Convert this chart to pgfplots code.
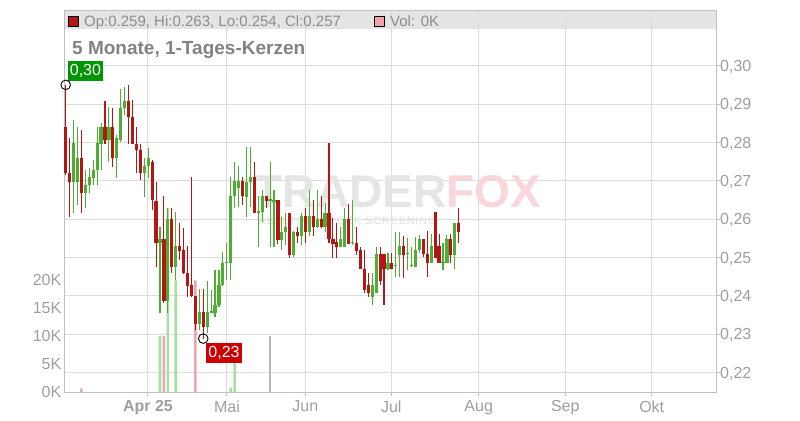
\documentclass[border=0pt]{standalone}
\usepackage{pgfplots}
\pgfplotsset{compat=1.18}
\usepackage{pgfplotstable}
\usepackage{fontspec}
\setmainfont{Liberation Sans}
\definecolor{cred}{RGB}{180,22,22}
\definecolor{cgreen}{RGB}{78,174,52}
\definecolor{vgreen}{RGB}{168,222,162}
\definecolor{vred}{RGB}{240,164,172}
\definecolor{vgray}{RGB}{184,184,184}
\definecolor{gridc}{RGB}{220,220,220}
\definecolor{axc}{RGB}{192,192,192}
\definecolor{tickc}{RGB}{158,158,158}
\definecolor{hdrbg}{RGB}{228,228,228}
\definecolor{hdrtx}{RGB}{140,140,140}
\definecolor{ttl}{RGB}{130,130,130}
\definecolor{lblgreen}{RGB}{0,150,0}
\definecolor{lblred}{RGB}{204,0,0}
\definecolor{wmgray}{RGB}{229,229,229}
\definecolor{wmsub}{RGB}{222,222,222}
\definecolor{wmpink}{RGB}{250,214,218}

% red (falling) candles: index, open, high, low, close
\pgfplotstableread{
i o h l c
0 0.2841 0.2950 0.2715 0.2719
1 0.2719 0.2811 0.2606 0.2697
4 0.2758 0.2832 0.2615 0.2667
10 0.2841 0.2908 0.2797 0.2806
12 0.2841 0.2889 0.2736 0.2758
16 0.2908 0.2950 0.2797 0.2867
17 0.2867 0.2911 0.2797 0.2797
18 0.2797 0.2841 0.2719 0.2780
19 0.2780 0.2797 0.2702 0.2719
22 0.2750 0.2754 0.2624 0.2650
23 0.2648 0.2697 0.2476 0.2537
25 0.2547 0.2660 0.2380 0.2387
27 0.2599 0.2628 0.2458 0.2476
29 0.2530 0.2589 0.2493 0.2517
30 0.2519 0.2576 0.2457 0.2458
31 0.2458 0.2530 0.2397 0.2425
32 0.2428 0.2709 0.2397 0.2399
33 0.2399 0.2399 0.2310 0.2326
35 0.2357 0.2417 0.2288 0.2318
45 0.2700 0.2710 0.2637 0.2660
48 0.2710 0.2749 0.2616 0.2616
51 0.2660 0.2660 0.2628 0.2648
54 0.2650 0.2650 0.2534 0.2545
57 0.2616 0.2616 0.2498 0.2506
59 0.2567 0.2580 0.2537 0.2556
61 0.2608 0.2628 0.2537 0.2567
63 0.2608 0.2650 0.2556 0.2578
65 0.2599 0.2660 0.2576 0.2578
67 0.2616 0.2799 0.2537 0.2547
68 0.2547 0.2602 0.2498 0.2535
69 0.2539 0.2589 0.2498 0.2528
72 0.2599 0.2639 0.2535 0.2535
74 0.2537 0.2580 0.2506 0.2517
75 0.2519 0.2528 0.2469 0.2469
76 0.2469 0.2519 0.2406 0.2415
77 0.2428 0.2460 0.2397 0.2406
80 0.2509 0.2528 0.2428 0.2437
81 0.2509 0.2509 0.2376 0.2469
83 0.2486 0.2511 0.2469 0.2469
86 0.2530 0.2556 0.2445 0.2506
91 0.2547 0.2547 0.2502 0.2509
92 0.2509 0.2570 0.2448 0.2486
94 0.2619 0.2619 0.2498 0.2498
95 0.2530 0.2560 0.2486 0.2486
98 0.2547 0.2562 0.2485 0.2506
100 0.2589 0.2628 0.2537 0.2567
}\downc

% green (rising) candles
\pgfplotstableread{
i o h l c
2 0.2697 0.2858 0.2615 0.2799
3 0.2697 0.2841 0.2637 0.2758
5 0.2667 0.2728 0.2628 0.2689
6 0.2689 0.2732 0.2667 0.2710
7 0.2706 0.2754 0.2689 0.2728
8 0.2728 0.2841 0.2689 0.2799
9 0.2797 0.2850 0.2728 0.2841
11 0.2806 0.2893 0.2750 0.2841
13 0.2758 0.2819 0.2706 0.2811
14 0.2806 0.2938 0.2802 0.2889
15 0.2889 0.2945 0.2871 0.2908
20 0.2719 0.2758 0.2658 0.2738
21 0.2738 0.2784 0.2706 0.2758
24 0.2537 0.2580 0.2356 0.2547
26 0.2387 0.2628 0.2356 0.2599
28 0.2476 0.2619 0.2441 0.2530
34 0.2326 0.2417 0.2310 0.2357
36 0.2318 0.2437 0.2302 0.2357
37 0.2355 0.2415 0.2355 0.2359
38 0.2356 0.2467 0.2345 0.2376
39 0.2376 0.2467 0.2371 0.2428
40 0.2428 0.2515 0.2424 0.2486
41 0.2486 0.2537 0.2441 0.2488
42 0.2486 0.2709 0.2441 0.2660
43 0.2660 0.2750 0.2628 0.2700
44 0.2680 0.2738 0.2632 0.2700
46 0.2658 0.2789 0.2606 0.2697
47 0.2697 0.2789 0.2632 0.2710
49 0.2617 0.2660 0.2528 0.2619
50 0.2618 0.2677 0.2593 0.2660
52 0.2648 0.2749 0.2528 0.2648
53 0.2645 0.2677 0.2528 0.2650
55 0.2545 0.2606 0.2519 0.2567
56 0.2567 0.2616 0.2532 0.2578
58 0.2506 0.2570 0.2500 0.2567
60 0.2556 0.2615 0.2532 0.2608
62 0.2567 0.2677 0.2555 0.2608
64 0.2578 0.2677 0.2576 0.2599
66 0.2578 0.2641 0.2567 0.2616
70 0.2528 0.2580 0.2528 0.2547
71 0.2528 0.2628 0.2528 0.2599
73 0.2537 0.2650 0.2532 0.2539
78 0.2397 0.2458 0.2376 0.2428
79 0.2406 0.2528 0.2406 0.2509
82 0.2469 0.2511 0.2467 0.2486
84 0.2477 0.2567 0.2450 0.2479
85 0.2506 0.2567 0.2450 0.2530
87 0.2509 0.2550 0.2467 0.2511
88 0.2477 0.2528 0.2474 0.2479
89 0.2474 0.2554 0.2474 0.2519
90 0.2519 0.2558 0.2511 0.2547
93 0.2486 0.2560 0.2486 0.2530
96 0.2486 0.2537 0.2467 0.2488
97 0.2486 0.2558 0.2486 0.2547
99 0.2506 0.2589 0.2469 0.2589
}\upc

\pgfplotstableread{
i v
4 600
25 10000
33 20000
}\volred
\pgfplotstableread{
i v
24 10000
26 33000
28 20000
42 800
43 8000
}\volgreen
\pgfplotstableread{
i v
52 10000
}\volgray

\pgfplotsset{
  base/.style={scale only axis, width=652bp, height=381bp,
    at={(64bp,28bp)}, anchor=south west,
    xmin=-0.43, xmax=165.47},
  candle/.style 2 args={draw=none, mark=none, forget plot,
    error bars/.cd, y dir=plus, y explicit, error mark=none,
    error bar style={draw=#1, line width=#2}},
}

\begin{document}
\begin{tikzpicture}[x=1bp,y=1bp]
\useasboundingbox (0,0) rectangle (800,420);
% header bar
\fill[hdrbg] (64,391) rectangle (716,409);

% axis 1: frame, grid, price ticks, month ticks
\begin{axis}[base,
  ymin=0.21487, ymax=0.31427,
  axis line style={axc, line width=1bp},
  grid=major, major grid style={gridc, line width=1bp},
  xtick={20.94,41.04,60.99,82.85,105.09,127.12,149.11},
  xticklabels={\textbf{Apr 25},Mai,Jun,Jul,Aug,Sep,Okt},
  ytick={0.22,0.23,0.24,0.25,0.26,0.27,0.28,0.29,0.30},
  yticklabels={{0,22},{0,23},{0,24},{0,25},{0,26},{0,27},{0,28},{0,29},{0,30}},
  xtick pos=left, ytick pos=right,
  tick align=outside, major tick length=4bp,
  tick style={axc, line width=1bp},
  ticklabel style={font=\fontsize{16bp}{18bp}\selectfont, text=tickc},
  yticklabel style={anchor=base west, inner sep=0pt, yshift=-5.7bp},
  xticklabel style={anchor=north, inner sep=0pt, yshift=-4.5bp},
]
\end{axis}

% watermark
\node[anchor=base, inner sep=0pt, font=\fontsize{46bp}{50bp}\selectfont\bfseries] at (398,213)
  {\textcolor{wmgray}{TRADER}\textcolor{wmpink}{FOX}};
\node[anchor=base west, inner sep=0pt, text=wmsub,
  font=\fontsize{10.5bp}{12bp}\selectfont\addfontfeature{LetterSpace=10}] at (258,196)
  {REALTIME STOCK SCREENING};

% axis 2: volume
\begin{axis}[base,
  ymin=0, ymax=68219,
  axis x line=none, axis y line*=left,
  y axis line style={draw=none},
  scaled y ticks=false,
  ytick={0,5000,10000,15000,20000},
  yticklabels={0K,5K,10K,15K,20K},
  major tick length=0pt, ytick style={draw=none},
  ticklabel style={font=\fontsize{16bp}{18bp}\selectfont, text=tickc},
  yticklabel style={anchor=east, inner sep=0pt, xshift=-2.5bp},
]
\addplot[ybar, bar width=2.6bp, bar shift=0pt, fill=vred, draw=none] table[x=i,y=v]{\volred};
\addplot[ybar, bar width=2.6bp, bar shift=0pt, fill=vgreen, draw=none] table[x=i,y=v]{\volgreen};
\addplot[ybar, bar width=2.6bp, bar shift=0pt, fill=vgray, draw=none] table[x=i,y=v]{\volgray};
\end{axis}

% axis 3: candles
\begin{axis}[base, ymin=0.21487, ymax=0.31427, hide axis]
% wicks
\addplot[candle={cred}{1.1bp}]
  table[x=i, y=l, y error plus expr=\thisrow{h}-\thisrow{l}]{\downc};
\addplot[candle={cgreen}{1.1bp}]
  table[x=i, y=l, y error plus expr=\thisrow{h}-\thisrow{l}]{\upc};
% bodies
\addplot[candle={cred}{3.2bp}]
  table[x=i, y=c, y error plus expr={max(\thisrow{o}-\thisrow{c},0.0003)}]{\downc};
\addplot[candle={cgreen}{3.2bp}]
  table[x=i, y=o, y error plus expr={max(\thisrow{c}-\thisrow{o},0.0003)}]{\upc};
% high / low markers
\addplot[only marks, mark=o, mark size=4.8bp, mark options={draw=black, line width=0.9bp}]
  coordinates {(0,0.2950) (35,0.2288)};
\node[fill=lblgreen, text=white, anchor=south west, inner xsep=2bp, inner ysep=0pt,
  minimum height=20bp, font=\fontsize{16bp}{18bp}\selectfont, xshift=2bp, yshift=4bp]
  at (axis cs:0,0.2950) {0,30};
\node[fill=lblred, text=white, anchor=north west, inner xsep=2bp, inner ysep=0pt,
  minimum height=20bp, font=\fontsize{16bp}{18bp}\selectfont, xshift=3bp, yshift=-4bp]
  at (axis cs:35,0.2288) {0,23};
\end{axis}

% header content
\filldraw[fill=cred, draw=black, line width=0.8bp] (68.3,393.3) rectangle (78.7,403.5);
\node[anchor=base west, inner sep=0pt, text=hdrtx, font=\fontsize{15bp}{18bp}\selectfont]
  at (84,393.3) {Op:0.259, Hi:0.263, Lo:0.254, Cl:0.257};
\filldraw[fill=vred, draw=black, line width=0.8bp] (374,393.3) rectangle (384.4,403.5);
\node[anchor=base west, inner sep=0pt, text=hdrtx, font=\fontsize{15bp}{18bp}\selectfont]
  at (390,393.3) {Vol: 0K};
% title
\node[anchor=base west, inner sep=0pt, text=ttl, font=\fontsize{19bp}{22bp}\selectfont\bfseries]
  at (72,366) {5 Monate, 1-Tages-Kerzen};
\end{tikzpicture}
\end{document}
